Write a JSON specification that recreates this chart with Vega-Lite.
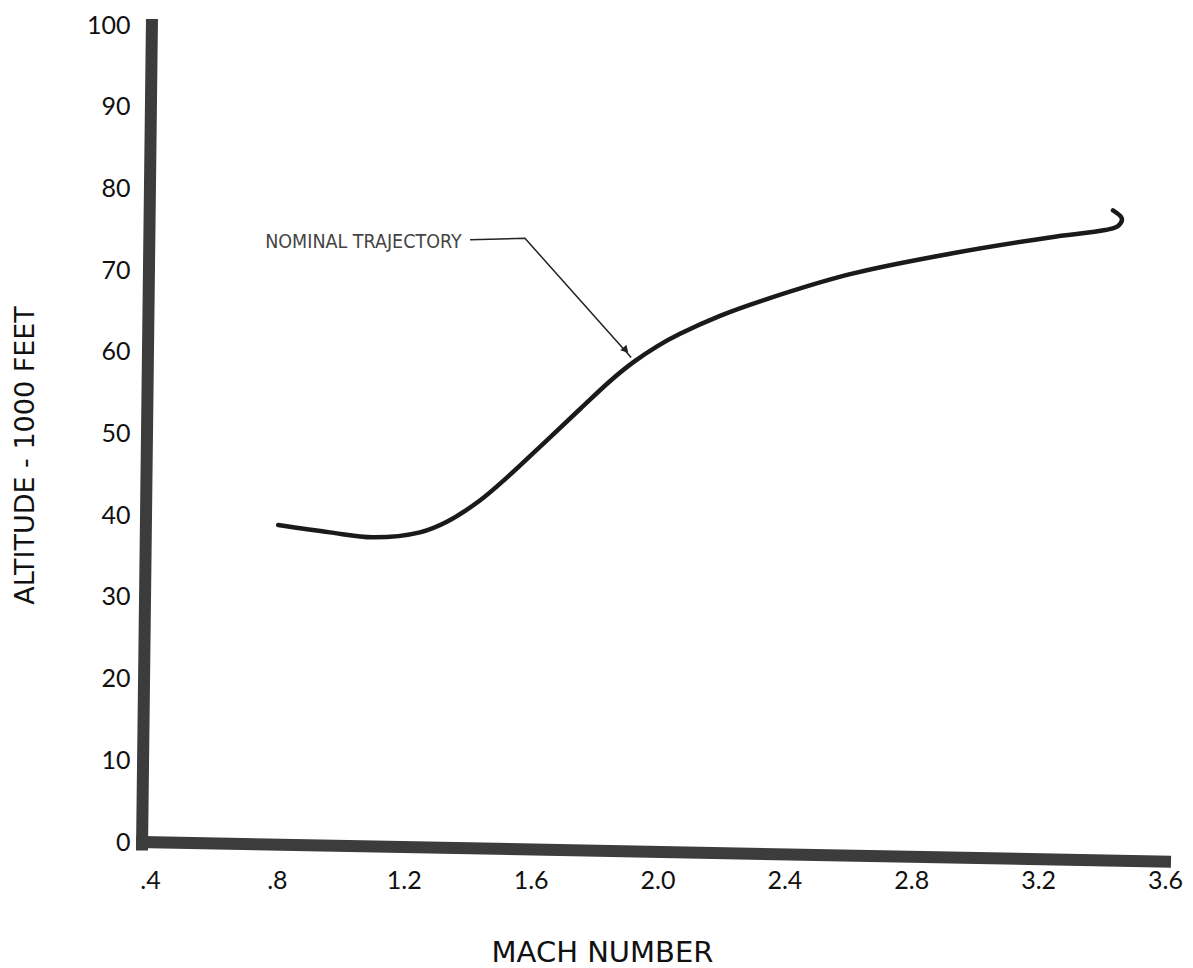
{
  "$schema": "https://vega.github.io/schema/vega-lite/v6.json",
  "width": 1015,
  "height": 817,
  "autosize": {"type": "none"},
  "padding": {"left": 150, "top": 25, "right": 28, "bottom": 126},
  "background": "white",
  "config": {"view": {"stroke": null}},
  "datasets": {
    "trajectory": [
      {"seq": 1, "mach": 0.804, "alt": 38.8},
      {"seq": 2, "mach": 0.967, "alt": 37.9},
      {"seq": 3, "mach": 1.103, "alt": 37.3},
      {"seq": 4, "mach": 1.251, "alt": 37.9},
      {"seq": 5, "mach": 1.336, "alt": 39.2},
      {"seq": 6, "mach": 1.44, "alt": 41.8},
      {"seq": 7, "mach": 1.525, "alt": 44.6},
      {"seq": 8, "mach": 1.652, "alt": 49.2},
      {"seq": 9, "mach": 1.756, "alt": 53.0},
      {"seq": 10, "mach": 1.85, "alt": 56.4},
      {"seq": 11, "mach": 1.923, "alt": 58.7},
      {"seq": 12, "mach": 2.0, "alt": 60.7},
      {"seq": 13, "mach": 2.071, "alt": 62.2},
      {"seq": 14, "mach": 2.197, "alt": 64.4},
      {"seq": 15, "mach": 2.333, "alt": 66.3},
      {"seq": 16, "mach": 2.607, "alt": 69.5},
      {"seq": 17, "mach": 2.922, "alt": 72.0},
      {"seq": 18, "mach": 3.237, "alt": 74.0},
      {"seq": 19, "mach": 3.411, "alt": 74.9},
      {"seq": 20, "mach": 3.452, "alt": 75.4},
      {"seq": 21, "mach": 3.464, "alt": 76.3},
      {"seq": 22, "mach": 3.436, "alt": 77.3}
    ],
    "axislines": [
      {"x1": 0.375, "y1": -0.3, "x2": 0.406, "y2": 100},
      {"x1": 0.375, "y1": 0.0, "x2": 3.6, "y2": -2.4}
    ],
    "leader": [
      {"seq": 1, "mach": 1.409, "alt": 73.7},
      {"seq": 2, "mach": 1.582, "alt": 73.9},
      {"seq": 3, "mach": 1.917, "alt": 59.3}
    ],
    "arrowhead": [{"mach": 1.9, "alt": 60.2}],
    "label": [{"mach": 0.763, "alt": 73.4, "text": "NOMINAL TRAJECTORY"}]
  },
  "layer": [
    {
      "data": {"name": "trajectory"},
      "mark": {"type": "line", "color": "#1a1a1a", "strokeWidth": 4.5, "interpolate": "catmull-rom", "strokeCap": "round"},
      "encoding": {
        "x": {
          "field": "mach", "type": "quantitative",
          "scale": {"domain": [0.4, 3.6], "nice": false, "zero": false},
          "axis": {
            "values": [0.4, 0.8, 1.2, 1.6, 2.0, 2.4, 2.8, 3.2, 3.6],
            "labelExpr": "datum.value < 1 ? replace(format(datum.value, '.1f'), '0.', '.') : format(datum.value, '.1f')",
            "title": "MACH NUMBER",
            "grid": false, "ticks": false, "domain": false,
            "labelFont": "Lato", "labelFontSize": 25, "labelColor": "#111111",
            "labelPadding": 26, "labelFlush": false, "labelOverlap": false,
            "titleFont": "DejaVu Sans", "titleFontSize": 29, "titleFontWeight": "normal", "titleColor": "#111111",
            "titleX": 452, "titleY": 110, "titleAlign": "center", "titleBaseline": "middle"
          }
        },
        "y": {
          "field": "alt", "type": "quantitative",
          "scale": {"domain": [0, 100], "nice": false, "zero": true},
          "axis": {
            "values": [0, 10, 20, 30, 40, 50, 60, 70, 80, 90, 100],
            "title": "ALTITUDE - 1000 FEET",
            "grid": false, "ticks": false, "domain": false,
            "labelFont": "Lato", "labelFontSize": 25, "labelColor": "#111111",
            "labelPadding": 20, "labelFlush": false, "labelOverlap": false,
            "titleFont": "DejaVu Sans", "titleFontSize": 27, "titleFontWeight": "normal", "titleColor": "#111111",
            "titleX": -125, "titleY": 430, "titleAngle": 270, "titleAlign": "center", "titleBaseline": "middle"
          }
        },
        "order": {"field": "seq", "type": "quantitative"}
      }
    },
    {
      "data": {"name": "axislines"},
      "mark": {"type": "rule", "color": "#3c3c3c", "strokeWidth": 12, "strokeCap": "square"},
      "encoding": {
        "x": {"field": "x1", "type": "quantitative"},
        "y": {"field": "y1", "type": "quantitative"},
        "x2": {"field": "x2"},
        "y2": {"field": "y2"}
      }
    },
    {
      "data": {"name": "leader"},
      "mark": {"type": "line", "color": "#222222", "strokeWidth": 1.5},
      "encoding": {
        "x": {"field": "mach", "type": "quantitative"},
        "y": {"field": "alt", "type": "quantitative"},
        "order": {"field": "seq", "type": "quantitative"}
      }
    },
    {
      "data": {"name": "arrowhead"},
      "mark": {"type": "point", "shape": "triangle-down", "filled": true, "color": "#222222", "size": 70, "angle": 318, "opacity": 1},
      "encoding": {
        "x": {"field": "mach", "type": "quantitative"},
        "y": {"field": "alt", "type": "quantitative"}
      }
    },
    {
      "data": {"name": "label"},
      "mark": {"type": "text", "font": "DejaVu Sans Condensed", "fontSize": 19.5, "align": "left", "baseline": "middle", "color": "#444444"},
      "encoding": {
        "x": {"field": "mach", "type": "quantitative"},
        "y": {"field": "alt", "type": "quantitative"},
        "text": {"field": "text"}
      }
    }
  ]
}
